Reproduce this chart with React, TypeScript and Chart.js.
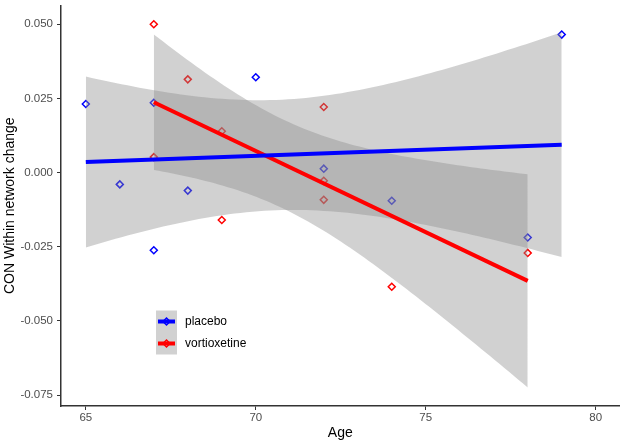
import React, { useEffect, useRef } from 'react';
import { Chart, registerables } from 'chart.js';

Chart.register(...registerables);

// ---- data ----
const placeboAge = [65, 66, 67, 67, 68, 70, 72, 74, 78, 79];
const placeboChange = [0.0231, -0.004, 0.0235, -0.0262, -0.0061, 0.0321, 0.0013, -0.0095, -0.0219, 0.0465];
const vortioxetineAge = [67, 67, 68, 69, 69, 72, 72, 72, 74, 78];
const vortioxetineChange = [0.05, 0.0052, 0.0314, 0.0139, -0.016, 0.0221, -0.0028, -0.0092, -0.0385, -0.0271];
const groupNames = ['placebo', 'vortioxetine'];
const xTicks = [65, 70, 75, 80];
const yTicks = [-0.075, -0.05, -0.025, 0, 0.025, 0.05];
const T_975_DF8 = 2.306; // qt(0.975, 8) for 95% CI of a linear fit with n = 10

const BLUE = '#0000ff';
const RED = '#ff0000';
const BAND = 'rgba(139,139,139,0.4)';
const FONT = "'Liberation Sans', Arial, sans-serif";

type P = { x: number; y: number };

function fitLm(xs: number[], ys: number[], steps = 80) {
  const n = xs.length;
  const mx = xs.reduce((a, b) => a + b, 0) / n;
  const my = ys.reduce((a, b) => a + b, 0) / n;
  let sxx = 0, sxy = 0;
  for (let i = 0; i < n; i++) {
    sxx += (xs[i] - mx) ** 2;
    sxy += (xs[i] - mx) * (ys[i] - my);
  }
  const b = sxy / sxx;
  const a = my - b * mx;
  let sse = 0;
  for (let i = 0; i < n; i++) sse += (ys[i] - (a + b * xs[i])) ** 2;
  const s = Math.sqrt(sse / (n - 2));
  const lo = Math.min(...xs);
  const hi = Math.max(...xs);
  const line: P[] = [];
  const upper: P[] = [];
  const lower: P[] = [];
  for (let k = 0; k <= steps; k++) {
    const x = lo + ((hi - lo) * k) / steps;
    const yh = a + b * x;
    const se = s * Math.sqrt(1 / n + (x - mx) ** 2 / sxx);
    line.push({ x, y: yh });
    upper.push({ x, y: yh + T_975_DF8 * se });
    lower.push({ x, y: yh - T_975_DF8 * se });
  }
  return { line: [line[0], line[line.length - 1]], upper, lower };
}

const legendPlugin = {
  id: 'insideLegend',
  afterDraw(chart: any) {
    const ctx = chart.ctx;
    const ca = chart.chartArea;
    const left = ca.left + 95;
    const top = ca.top + 305;
    const keyW = 21;
    const keyH = 22;
    ctx.save();
    ctx.fillStyle = BAND;
    ctx.fillRect(left, top, keyW, keyH * 2);
    const colors = [BLUE, RED];
    groupNames.forEach((name, i) => {
      const cy = top + keyH * i + keyH / 2;
      ctx.strokeStyle = colors[i];
      ctx.lineWidth = 4;
      ctx.beginPath();
      ctx.moveTo(left + 2, cy);
      ctx.lineTo(left + keyW - 2, cy);
      ctx.stroke();
      ctx.lineWidth = 1.5;
      ctx.beginPath();
      const cx = left + keyW / 2;
      ctx.moveTo(cx, cy - 3.5);
      ctx.lineTo(cx + 3.5, cy);
      ctx.lineTo(cx, cy + 3.5);
      ctx.lineTo(cx - 3.5, cy);
      ctx.closePath();
      ctx.stroke();
      ctx.fillStyle = '#000000';
      ctx.font = `12px ${FONT}`;
      ctx.textBaseline = 'middle';
      ctx.textAlign = 'left';
      ctx.fillText(name, left + keyW + 8, cy);
    });
    ctx.restore();
  },
};

export default function App() {
  const ref = useRef<HTMLCanvasElement | null>(null);

  useEffect(() => {
    if (!ref.current) return;
    const pFit = fitLm(placeboAge, placeboChange);
    const vFit = fitLm(vortioxetineAge, vortioxetineChange);
    const pts = (xs: number[], ys: number[]) => xs.map((x, i) => ({ x, y: ys[i] }));

    const pointDs = (label: string, data: P[], color: string) => ({
      label,
      data,
      showLine: false,
      pointStyle: 'rectRot',
      pointRadius: 3.5,
      pointBorderWidth: 1.5,
      pointBorderColor: color,
      pointBackgroundColor: 'rgba(0,0,0,0)',
      borderColor: color,
      order: 2,
    });
    const bandUpper = (data: P[], target: number) => ({
      label: 'band',
      data,
      borderColor: 'transparent',
      borderWidth: 0,
      pointRadius: 0,
      fill: { target },
      backgroundColor: BAND,
      tension: 0,
      order: 1,
    });
    const bandLower = (data: P[]) => ({
      label: 'band',
      data,
      borderColor: 'transparent',
      borderWidth: 0,
      pointRadius: 0,
      fill: false,
      tension: 0,
      order: 1,
    });
    const lineDs = (label: string, data: P[], color: string) => ({
      label,
      data,
      borderColor: color,
      borderWidth: 4,
      pointRadius: 0,
      fill: false,
      order: 0,
    });

    const datasets: any[] = [
      pointDs(groupNames[0], pts(placeboAge, placeboChange), BLUE), // 0
      pointDs(groupNames[1], pts(vortioxetineAge, vortioxetineChange), RED), // 1
      bandUpper(pFit.upper, 3), // 2
      bandLower(pFit.lower), // 3
      bandUpper(vFit.upper, 5), // 4
      bandLower(vFit.lower), // 5
      lineDs(groupNames[0], pFit.line, BLUE), // 6
      lineDs(groupNames[1], vFit.line, RED), // 7
    ];

    const tickFont = { family: FONT, size: 11.5 };
    const chart = new Chart(ref.current, {
      type: 'line',
      data: { datasets },
      plugins: [legendPlugin],
      options: {
        animation: false,
        responsive: false,
        devicePixelRatio: 1,
        layout: { padding: { top: 3, right: 4, left: 0, bottom: 0 } },
        plugins: {
          legend: { display: false },
          tooltip: { enabled: false },
        },
        scales: {
          x: {
            type: 'linear',
            min: 64.27,
            max: 80.7,
            afterBuildTicks: (s: any) => {
              s.ticks = xTicks.map((v) => ({ value: v }));
            },
            afterFit: (s: any) => {
              s.height = 40;
              s.paddingLeft = 0;
              s.paddingRight = 0;
            },
            ticks: {
              color: '#4d4d4d',
              font: tickFont,
              padding: 1,
              autoSkip: false,
              maxRotation: 0,
              callback: (v: any) => String(v),
            },
            grid: {
              display: true,
              drawOnChartArea: false,
              drawTicks: true,
              tickLength: 4,
              color: '#333333',
              lineWidth: 1,
            },
            border: { display: true, color: '#333333', width: 1.5 },
            title: {
              display: true,
              text: 'Age',
              color: '#000000',
              font: { family: FONT, size: 14 },
              padding: { top: 0, bottom: 4 },
            },
          },
          y: {
            type: 'linear',
            min: -0.0787,
            max: 0.0563,
            afterBuildTicks: (s: any) => {
              s.ticks = yTicks.map((v) => ({ value: v }));
            },
            afterFit: (s: any) => {
              s.width = 61;
              s.paddingTop = 0;
              s.paddingBottom = 0;
            },
            ticks: {
              color: '#4d4d4d',
              font: tickFont,
              padding: 4,
              autoSkip: false,
              callback: (v: any) => Number(v).toFixed(3),
            },
            grid: {
              display: true,
              drawOnChartArea: false,
              drawTicks: true,
              tickLength: 4,
              color: '#333333',
              lineWidth: 1,
            },
            border: { display: true, color: '#333333', width: 1.5 },
            title: {
              display: true,
              text: 'CON Within network change',
              color: '#000000',
              font: { family: FONT, size: 14 },
              padding: { top: 2, bottom: 0 },
            },
          },
        },
      } as any,
    });
    return () => chart.destroy();
  }, []);

  return (
    <div style={{ position: 'fixed', left: 0, top: 0, width: 625, height: 446, background: '#ffffff' }}>
      <canvas ref={ref} width={625} height={446} style={{ display: 'block' }} />
    </div>
  );
}
